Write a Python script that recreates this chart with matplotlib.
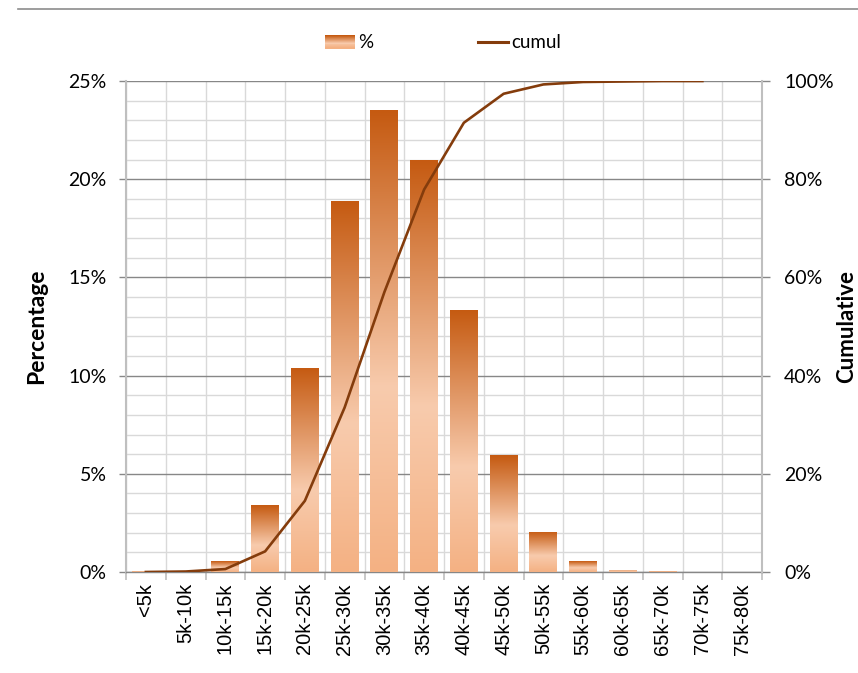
import numpy as np
import matplotlib
matplotlib.use("Agg")
import matplotlib.pyplot as plt
from matplotlib.colors import LinearSegmentedColormap
from matplotlib.patches import Rectangle
from matplotlib.legend_handler import HandlerBase
from matplotlib.lines import Line2D

plt.rcParams["font.family"] = ["Lato", "DejaVu Sans"]

# Income bands and their share of the population
categories = ["<5k", "5k-10k", "10k-15k", "15k-20k", "20k-25k", "25k-30k",
              "30k-35k", "35k-40k", "40k-45k", "45k-50k", "50k-55k", "55k-60k",
              "60k-65k", "65k-70k", "70k-75k", "75k-80k"]
percent = [0.03, 0.05, 0.56, 3.4, 10.4, 18.9, 23.5, 21.0,
           13.35, 5.95, 2.05, 0.55, 0.12, 0.04, 0.0, 0.0]
cumul = [0.0, 0.1, 0.6, 4.2, 14.5, 33.5, 57.0, 77.9,
         91.5, 97.4, 99.3, 99.8, 99.9, 100.0, 100.0, np.nan]

left_ticks = [0, 5, 10, 15, 20, 25]
left_labels = ["0%", "5%", "10%", "15%", "20%", "25%"]
right_ticks = [0, 20, 40, 60, 80, 100]
right_labels = ["0%", "20%", "40%", "60%", "80%", "100%"]

DARK = "#C55A11"
LIGHT = "#F8CBAD"
BASE = "#F4B183"
LINE = "#843C0C"
MAJOR = "#878787"
MINOR = "#D9D9D9"

bar_cmap = LinearSegmentedColormap.from_list(
    "bar_grad", [(0.0, DARK), (0.6, LIGHT), (1.0, BASE)])

fig = plt.figure(figsize=(8.58, 6.73), dpi=100)
ax = fig.add_axes([126 / 858, 101 / 673, 636 / 858, 491 / 673])

x = np.arange(len(categories))
bars = ax.bar(x, percent, width=0.7, color="none", edgecolor="none", zorder=3)

# vertical gradient inside each bar
grad = np.linspace(0, 1, 256).reshape(-1, 1)
for b in bars:
    h = b.get_height()
    if h <= 0:
        continue
    x0, y0, w = b.get_x(), b.get_y(), b.get_width()
    im = ax.imshow(grad, cmap=bar_cmap, extent=(x0, x0 + w, y0, y0 + h),
                   aspect="auto", origin="upper", zorder=3,
                   interpolation="bilinear")
    im.set_clip_path(b)

ax.set_xlim(-0.5, len(categories) - 0.5)
ax.set_ylim(0, 25)
ax.set_axisbelow(True)

# y axis: major every 5%, minor every 1%
ax.set_yticks(left_ticks)
ax.set_yticklabels(left_labels, fontsize=14)
ax.set_yticks(np.arange(0, 26, 1), minor=True)
ax.yaxis.grid(True, which="major", color=MAJOR, lw=1.0)
ax.yaxis.grid(True, which="minor", color=MINOR, lw=1.0)
ax.tick_params(axis="y", which="major", length=5, color=MAJOR, width=1, pad=9)
ax.tick_params(axis="y", which="minor", length=0)

# x axis: labels at band centres, tick marks at band boundaries
ax.set_xticks(x)
ax.set_xticklabels(categories, rotation=90, fontsize=14.5,
                   family=["Liberation Sans", "DejaVu Sans"])
ax.set_xticks(np.arange(-0.5, len(categories), 1), minor=True)
ax.xaxis.grid(True, which="minor", color=MINOR, lw=1.0)
ax.xaxis.grid(False, which="major")
ax.tick_params(axis="x", which="major", length=0, pad=8)
ax.tick_params(axis="x", which="minor", length=6, color="#BFBFBF", width=1.2)

for s in ["top", "right"]:
    ax.spines[s].set_visible(False)
ax.spines["left"].set_color("#BFBFBF")
ax.spines["left"].set_linewidth(1.5)
ax.spines["bottom"].set_color(MAJOR)
ax.spines["bottom"].set_linewidth(1.0)

ax.set_ylabel("Percentage", fontsize=16.5, fontweight="bold", labelpad=15)

# cumulative share on the secondary axis
ax2 = ax.twinx()
ax2.plot(x, cumul, color=LINE, lw=1.9, zorder=5)
ax2.set_ylim(0, 100)
ax2.set_yticks(right_ticks)
ax2.set_yticklabels(right_labels, fontsize=14)
ax2.tick_params(axis="y", length=6, color=MAJOR, width=1, pad=10)
for s in ["top", "left", "bottom"]:
    ax2.spines[s].set_visible(False)
ax2.spines["right"].set_color("#BFBFBF")
ax2.spines["right"].set_linewidth(1.5)
ax2.set_ylabel("Cumulative", fontsize=16, fontweight="bold", labelpad=2)


class GradientHandler(HandlerBase):
    def create_artists(self, legend, orig_handle, xdescent, ydescent,
                       width, height, fontsize, trans):
        n = 14
        arts = []
        for i in range(n):
            r = Rectangle((-xdescent, -ydescent + height * (1 - (i + 1) / n)),
                          width, height / n + 0.2,
                          facecolor=bar_cmap(i / (n - 1)), edgecolor="none",
                          transform=trans)
            arts.append(r)
        return arts


bar_handle = Rectangle((0, 0), 1, 1)
line_handle = Line2D([], [], color=LINE, lw=2.2)
fig.legend([bar_handle, line_handle], ["%", "cumul"],
           handler_map={Rectangle: GradientHandler()},
           loc="center", bbox_to_anchor=(443 / 858, 1 - 43 / 673),
           ncol=2, frameon=False, fontsize=13.5, handlelength=1.6,
           handletextpad=0.15, columnspacing=5.6)

# rule across the top of the chart area
fig.add_artist(Line2D([18 / 858, 1.0], [1 - 9 / 673] * 2,
                      color="#8C8C8C", lw=1.2))

fig.savefig("out.png", dpi=100)
